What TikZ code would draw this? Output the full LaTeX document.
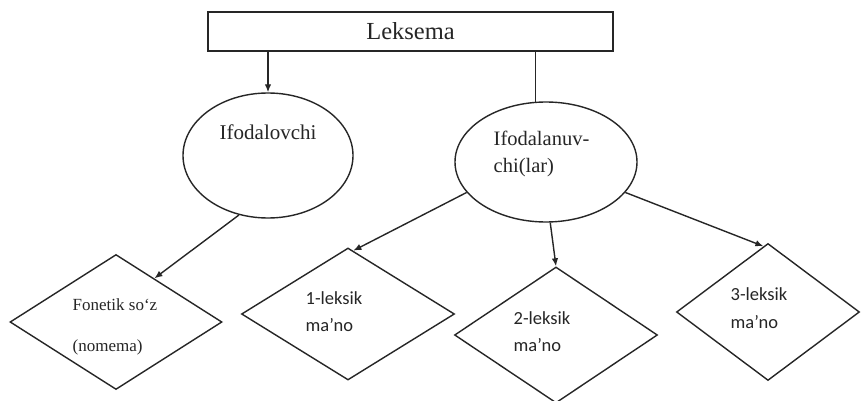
\documentclass[tikz,border=0pt]{standalone}
\usepackage{fontspec}
\setmainfont{Liberation Serif}
\setsansfont{Carlito}
\usetikzlibrary{shapes.geometric,arrows.meta,calc}
\begin{document}
\begin{tikzpicture}[x=1pt,y=-1pt,
  line width=1.4pt, draw=black!85, text=black!85,
  arr/.style={-{Latex[length=8pt,width=6.5pt]}},
  oval/.style={ellipse,draw,inner sep=0pt},
  rhomb/.style={diamond,draw,inner sep=0pt},
  lbl/.style={anchor=west,inner sep=0pt,align=left},
  slbl/.style={anchor=west,inner sep=0pt,align=left,font=\sffamily\fontsize{18.5}{26}\selectfont}]
\useasboundingbox (0,0) rectangle (862,401);
\fill[white] (0,0) rectangle (862,401);
% top box
\node[draw,minimum width=405pt,minimum height=39pt,inner sep=0pt,font=\fontsize{24.5}{26}\selectfont] (lex) at (410.5,31.5) {Leksema};
% ellipses
\node[oval,minimum width=170pt,minimum height=125pt] (e1) at (268,155.5) {};
\node[oval,minimum width=182pt,minimum height=120pt] (e2) at (546,162) {};
\node[lbl,font=\fontsize{21}{22}\selectfont] (t1) at (219,132) {Ifodalovchi};
\node[lbl,font=\fontsize{20.5}{22}\selectfont] (t2) at (493,138) {Ifodalanuv-};
\node[lbl,font=\fontsize{20.5}{22}\selectfont] (t3) at (493,168) {chi(lar)};
% diamonds
\node[rhomb,minimum width=212pt,minimum height=135pt] (d1) at (116,322) {};
\node[rhomb,minimum width=213pt,minimum height=132pt] (d2) at (348,314) {};
\node[rhomb,minimum width=203pt,minimum height=136pt] (d3) at (556,335) {};
\node[rhomb,minimum width=183pt,minimum height=137pt] (d4) at (768,312) {};
% diamond texts
\node[lbl,font=\fontsize{17}{18}\selectfont] (f1) at (72,305) {Fonetik so‘z};
\node[lbl,font=\fontsize{17}{18}\selectfont] (f2) at (72,347) {(nomema)};
\node[slbl] (g1) at (305,298) {1-leksik};
\node[slbl] (g2) at (305,325) {ma’no};
\node[slbl] (h1) at (513,318) {2-leksik};
\node[slbl] (h2) at (513,345) {ma’no};
\node[slbl] (k1) at (730,294) {3-leksik};
\node[slbl] (k2) at (730,322) {ma’no};
% connectors
\draw[arr] (lex.south -| e1.north) -- (e1.north);
\draw (lex.south -| e2.100) -- (e2.100);
\draw[arr] (e1.244) -- ($(d1.north)!0.36!(d1.east)$);
\draw[arr] (e2.201) -- ($(d2.north)!0.05!(d2.east)$);
\draw[arr] (e2.274) -- (d3.north);
\draw[arr] (e2.339) -- ($(d4.north)!0.05!(d4.west)$);
\end{tikzpicture}
\end{document}
